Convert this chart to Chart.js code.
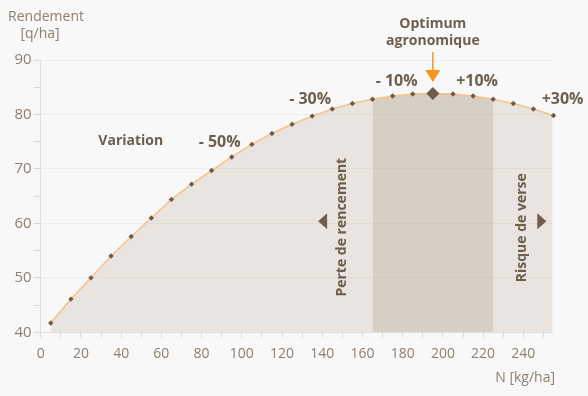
<!DOCTYPE html>
<html>
<head>
<meta charset="utf-8">
<script src="https://cdn.jsdelivr.net/npm/chart.js@4.4.1/dist/chart.umd.min.js"></script>
<style>
  html, body { margin: 0; padding: 0; background: #f8f8f8; }
  canvas { display: block; }
</style>
</head>
<body>
<canvas id="chart" width="588" height="396"></canvas>
<script>
// nitrogen dose (kg/ha) and yield (q/ha)
const nDoses = [5, 15, 25, 35, 45, 55, 65, 75, 85, 95, 105, 115, 125, 135, 145, 155, 165, 175, 185, 195, 205, 215, 225, 235, 245, 255];
const yields = [41.7, 46.1, 50.0, 54.0, 57.6, 61.0, 64.4, 67.2, 69.7, 72.2, 74.5, 76.5, 78.2, 79.7, 81.0, 82.0, 82.8, 83.4, 83.75, 83.85, 83.75, 83.4, 82.8, 82.0, 81.0, 79.8];
const optimumDose = 195;
const optimumRange = [165, 225];
const variationLabels = ["- 50%", "- 30%", "- 10%", "+10%", "+30%"];
const variationDoses = [89, 134, 177, 217, 259.5];
const variationYields = [74.9, 82.7, 86.1, 86.1, 82.8];

const TEXT_DARK = "#6f5e4d";
const TEXT_AXIS = "#8d7f71";
const FONT = "'Open Sans', sans-serif";

const curve = nDoses.map((n, i) => ({ x: n, y: yields[i] }));
const band = curve.filter(p => p.x >= optimumRange[0] && p.x <= optimumRange[1]);

// annotation texts, drawn after the chart
const annotations = {
  id: "annotations",
  afterDraw(chart) {
    const ctx = chart.ctx;
    const xs = chart.scales.x;
    const ys = chart.scales.y;
    ctx.save();
    ctx.textAlign = "center";
    ctx.textBaseline = "middle";

    // axis titles
    ctx.fillStyle = TEXT_AXIS;
    ctx.font = "14px " + FONT;
    ctx.fillText("Rendement", 46, 17);
    ctx.fillText("[q/ha]", 40, 34);
    ctx.textAlign = "right";
    ctx.fillText("N [kg/ha]", 555, 378);
    ctx.textAlign = "center";

    // variation labels
    ctx.fillStyle = TEXT_DARK;
    ctx.font = "bold 14px " + FONT;
    ctx.fillText("Variation", xs.getPixelForValue(44.8), ys.getPixelForValue(75.2));
    ctx.font = "bold 16px " + FONT;
    variationLabels.forEach((t, i) => {
      ctx.fillText(t, xs.getPixelForValue(variationDoses[i]), ys.getPixelForValue(variationYields[i]));
    });

    // optimum label + arrow
    const ox = xs.getPixelForValue(optimumDose);
    ctx.font = "bold 14px " + FONT;
    ctx.fillText("Optimum", ox, 24);
    ctx.fillText("agronomique", ox, 41);
    ctx.strokeStyle = "#f7941d";
    ctx.lineWidth = 1.5;
    ctx.beginPath();
    ctx.moveTo(ox, 52);
    ctx.lineTo(ox, 71);
    ctx.stroke();
    ctx.fillStyle = "#f7941d";
    ctx.beginPath();
    ctx.moveTo(ox - 7.5, 70);
    ctx.lineTo(ox + 7.5, 70);
    ctx.lineTo(ox, 82);
    ctx.closePath();
    ctx.fill();

    // vertical side labels
    ctx.fillStyle = TEXT_DARK;
    ctx.font = "bold 14px " + FONT;
    const side = [
      ["Perte de rencement", 150, 59.3],
      ["Risque de verse", 239.5, 59.2]
    ];
    side.forEach(([t, n, y]) => {
      ctx.save();
      ctx.translate(xs.getPixelForValue(n), ys.getPixelForValue(y));
      ctx.rotate(-Math.PI / 2);
      ctx.fillText(t, 0, 0);
      ctx.restore();
    });

    // side arrows
    const ly = ys.getPixelForValue(60.4);
    let lx = xs.getPixelForValue(140.2);
    ctx.beginPath();
    ctx.moveTo(lx - 4.5, ly);
    ctx.lineTo(lx + 4.5, ly - 8);
    ctx.lineTo(lx + 4.5, ly + 8);
    ctx.closePath();
    ctx.fill();
    lx = xs.getPixelForValue(249.2);
    ctx.beginPath();
    ctx.moveTo(lx + 4.5, ly);
    ctx.lineTo(lx - 4.5, ly - 8);
    ctx.lineTo(lx - 4.5, ly + 8);
    ctx.closePath();
    ctx.fill();

    ctx.restore();
  }
};

new Chart(document.getElementById("chart"), {
  type: "line",
  data: {
    datasets: [
      {
        // darker optimum band under the curve
        data: band,
        fill: "start",
        backgroundColor: "#d7cec4",
        borderWidth: 0,
        pointRadius: 0
      },
      {
        data: curve,
        fill: "start",
        clip: 4,
        backgroundColor: "#e9e4df",
        borderColor: "#f5c38a",
        borderWidth: 1.5,
        pointStyle: "rectRot",
        pointRadius: ctx => (ctx.raw && ctx.raw.x === optimumDose ? 6.5 : 2.7),
        pointBackgroundColor: "#6e5b49",
        pointBorderWidth: 0
      }
    ]
  },
  options: {
    responsive: false,
    animation: false,
    layout: { padding: { left: 0, top: 60, right: 35.7, bottom: 0 } },
    plugins: {
      legend: { display: false },
      tooltip: { enabled: false },
      filler: { drawTime: "beforeDraw" }
    },
    scales: {
      x: {
        type: "linear",
        min: 0,
        max: 254.4,
        afterFit: s => { s.height = 63.7; },
        border: { color: "#e2ddd8" },
        grid: { drawOnChartArea: false, tickLength: 5, tickColor: "#ddd7d1" },
        ticks: {
          stepSize: 10,
          includeBounds: false,
          autoSkip: false,
          maxRotation: 0,
          padding: 8,
          color: TEXT_AXIS,
          font: { family: FONT, size: 14 },
          callback: v => (v % 20 === 0 ? v : "")
        }
      },
      y: {
        min: 40,
        max: 90,
        afterFit: s => { s.width = 40.7; },
        border: { color: "#e2ddd8" },
        grid: {
          tickLength: 7,
          color: c => (c.tick && c.tick.value % 10 === 0 ? "rgba(150,130,110,0.09)" : "transparent"),
          tickColor: "#ddd7d1"
        },
        ticks: {
          stepSize: 5,
          padding: 2,
          color: TEXT_AXIS,
          font: { family: FONT, size: 15 },
          callback: v => (v % 10 === 0 ? v : "")
        }
      }
    }
  },
  plugins: [annotations]
});
</script>
</body>
</html>
